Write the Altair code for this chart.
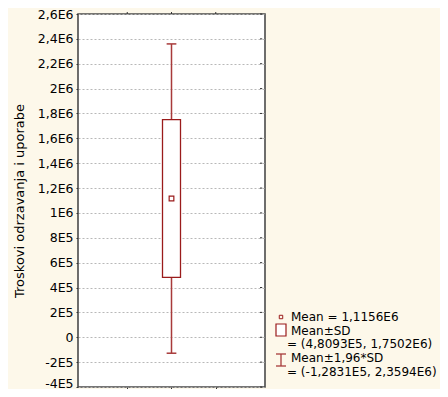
import altair as alt
import pandas as pd

# values
mean_val = [1115600]
sd_low = [480930]
sd_high = [1750200]
ci_low = [-128310]
ci_high = [2359400]
group_pos = [2]

y_ticks = [-400000, -200000, 0, 200000, 400000, 600000, 800000, 1000000, 1200000,
           1400000, 1600000, 1800000, 2000000, 2200000, 2400000, 2600000]
y_tick_labels = ["-4E5", "-2E5", "0", "2E5", "4E5", "6E5", "8E5", "1E6", "1,2E6",
                 "1,4E6", "1,6E6", "1,8E6", "2E6", "2,2E6", "2,4E6", "2,6E6"]
x_ticks = [1, 2, 3]

legend_text = ["Mean = 1,1156E6", "Mean±SD", "= (4,8093E5, 1,7502E6)",
               "Mean±1,96*SD", "= (-1,2831E5, 2,3594E6)"]

FONT = "DejaVu Sans"
FS = 12.5
LEG_FS = 12
RED = "#9a1b1b"
WHISKER = "#a83a3a"
X_MIN, X_MAX = 0, 4
Y_MIN, Y_MAX = y_ticks[0], y_ticks[-1]

df = pd.DataFrame({
    "x": group_pos, "mean": mean_val, "lo": sd_low, "hi": sd_high,
    "clo": ci_low, "chi": ci_high,
})
df["xl"] = df["x"] - 0.11
df["xr"] = df["x"] + 0.11

label_expr = "[" + ",".join("'%s'" % s for s in y_tick_labels) + "][round((datum.value - (%d)) / 200000)]" % y_ticks[0]

yscale = alt.Scale(domain=[Y_MIN, Y_MAX], nice=False, zero=False)
xscale = alt.Scale(domain=[X_MIN, X_MAX], nice=False, zero=False)

yaxis = alt.Axis(values=y_ticks, labelExpr=label_expr, title="Troskovi odrzavanja i uporabe",
                 grid=True, gridColor="#b8b8b8", gridDash=[2, 2], gridWidth=1,
                 domain=False, tickColor="#333", tickSize=2, labelFont=FONT, labelFontSize=FS,
                 labelColor="#000", labelPadding=3, titleFont=FONT, titleFontSize=13,
                 titleFontWeight="normal", titleColor="#000", titlePadding=11,
                 labelOverlap=False, labelFlush=False,
                 labelOffset=alt.condition("datum.value == %d" % Y_MIN, alt.value(-4), alt.value(0)))
xaxis = alt.Axis(values=x_ticks, labels=False, title=None, grid=False, domain=False,
                 tickColor="#333", tickSize=2)


def X(f, **kw):
    return alt.X(f, scale=xscale, axis=xaxis, **kw)


def Y(f, **kw):
    return alt.Y(f, scale=yscale, axis=yaxis, **kw)


base = alt.Chart(df)

whisker = base.mark_rule(color=WHISKER, strokeWidth=1.5).encode(
    x=X("x:Q"), y=Y("clo:Q"), y2="chi:Q")
caps_low = base.mark_rule(color=WHISKER, strokeWidth=1.5).encode(
    x=X("xl:Q"), x2="xr:Q", y=Y("clo:Q"))
caps_high = base.mark_rule(color=WHISKER, strokeWidth=1.5).encode(
    x=X("xl:Q"), x2="xr:Q", y=Y("chi:Q"))
box = base.mark_bar(fill="white", stroke=RED, strokeWidth=1.3, size=18).encode(
    x=X("x:Q"), y=Y("lo:Q"), y2="hi:Q")
mean_pt = base.mark_point(shape="square", size=22, filled=False, color=RED, strokeWidth=1.2,
                          opacity=1).encode(x=X("x:Q"), y=Y("mean:Q"))

# right-side and top ticks of the frame
rt_df = pd.DataFrame({"yv": y_ticks, "xa": X_MAX, "xb": X_MAX + 0.05})
right_ticks = alt.Chart(rt_df).mark_rule(color="#333", strokeWidth=1).encode(
    x=X("xa:Q"), x2="xb:Q", y=Y("yv:Q"))
tp_df = pd.DataFrame({"xv": x_ticks, "ya": Y_MAX, "yb": Y_MAX + 16000})
top_ticks = alt.Chart(tp_df).mark_rule(color="#333", strokeWidth=1).encode(
    x=X("xv:Q"), y=Y("ya:Q"), y2="yb:Q")

# legend
leg_df = pd.DataFrame({"t": legend_text, "i": list(range(len(legend_text)))})
leg_y = [303, 317, 330, 344, 358]
leg_x = [213, 213, 209, 213, 209]
leg_layers = []
for i, t in enumerate(legend_text):
    leg_layers.append(
        alt.Chart(leg_df[leg_df.i == i]).mark_text(
            align="left", baseline="middle", font=FONT, fontSize=LEG_FS, color="#000"
        ).encode(text="t:N", x=alt.value(leg_x[i]), y=alt.value(leg_y[i]))
    )
sym_mean = alt.Chart(leg_df[leg_df.i == 0]).mark_point(
    shape="square", size=12, filled=False, color=RED, strokeWidth=1, opacity=1
).encode(x=alt.value(203), y=alt.value(303))
sym_box = alt.Chart(leg_df[leg_df.i == 1]).mark_rect(
    fill="white", stroke=RED, strokeWidth=1.2
).encode(x=alt.value(198), x2=alt.value(208), y=alt.value(310), y2=alt.value(322))
sym_bar = alt.Chart(leg_df[leg_df.i == 3]).mark_rule(color=WHISKER, strokeWidth=1.3).encode(
    x=alt.value(203), y=alt.value(340), y2=alt.value(352))
sym_cap1 = alt.Chart(leg_df[leg_df.i == 3]).mark_rule(color=WHISKER, strokeWidth=1.3).encode(
    x=alt.value(198), x2=alt.value(208), y=alt.value(340))
sym_cap2 = alt.Chart(leg_df[leg_df.i == 3]).mark_rule(color=WHISKER, strokeWidth=1.3).encode(
    x=alt.value(198), x2=alt.value(208), y=alt.value(352))

chart = alt.layer(
    whisker, caps_low, caps_high, box, mean_pt, right_ticks, top_ticks,
    sym_mean, sym_box, sym_bar, sym_cap1, sym_cap2, *leg_layers
).properties(
    width=187, height=373,
    autosize=alt.AutoSizeParams(type="none"),
    padding={"left": 70, "top": 6, "right": 175, "bottom": 2},
    background="#fdf8ea",
).configure_view(
    fill="white", stroke="#4a4a4a", strokeWidth=1.6
)

chart.save("out.html", embed_options={"renderer": "svg", "actions": False})
